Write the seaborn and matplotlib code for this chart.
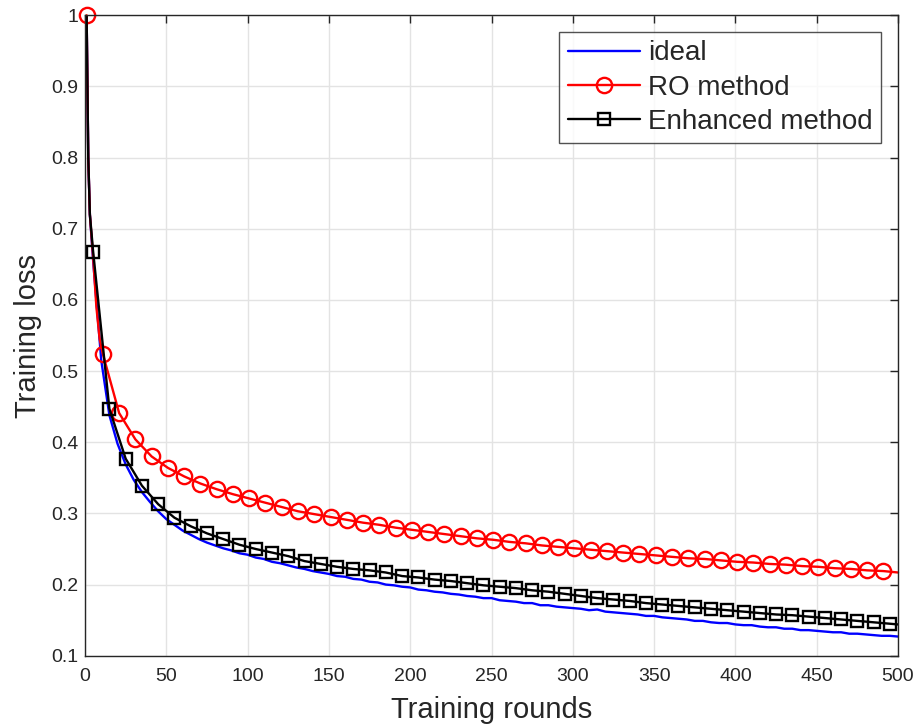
import numpy as np
import pandas as pd
import matplotlib
matplotlib.use("Agg")
import matplotlib.pyplot as plt
import seaborn as sns

# ideal curve (read every 5 rounds)
ideal_x = [1, 2, 3] + list(range(5, 501, 5))
ideal_y = [1.000, 0.800, 0.720,
           0.655, 0.515, 0.438, 0.398, 0.369, 0.347, 0.330, 0.316, 0.303, 0.292,
           0.284, 0.276, 0.270, 0.264, 0.259, 0.255, 0.251, 0.248, 0.244, 0.242,
           0.238, 0.236, 0.232, 0.230, 0.227, 0.224, 0.222, 0.219, 0.217, 0.215,
           0.212, 0.211, 0.208, 0.207, 0.204, 0.203, 0.200, 0.199, 0.197, 0.196,
           0.193, 0.192, 0.190, 0.189, 0.187, 0.186, 0.184, 0.183, 0.181, 0.181,
           0.178, 0.177, 0.176, 0.174, 0.174, 0.171, 0.171, 0.169, 0.168, 0.167,
           0.166, 0.164, 0.165, 0.162, 0.161, 0.160, 0.159, 0.158, 0.156, 0.156,
           0.154, 0.153, 0.152, 0.151, 0.149, 0.149, 0.147, 0.146, 0.146, 0.144,
           0.143, 0.143, 0.141, 0.140, 0.140, 0.138, 0.138, 0.136, 0.136, 0.135,
           0.134, 0.133, 0.133, 0.131, 0.131, 0.130, 0.129, 0.128, 0.128, 0.127]

# RO method: markers every 10 rounds starting at 1
ro_x = [1, 2, 3, 5, 7, 9] + list(range(11, 492, 10)) + [500]
ro_y = [1.000, 0.800, 0.720, 0.660, 0.590, 0.545,
        0.524, 0.441, 0.404, 0.380, 0.364, 0.352, 0.342, 0.334, 0.327, 0.321,
        0.315, 0.309, 0.303, 0.299, 0.295, 0.291, 0.287, 0.284, 0.280, 0.277,
        0.274, 0.271, 0.268, 0.265, 0.263, 0.260, 0.258, 0.255, 0.253, 0.251,
        0.249, 0.247, 0.245, 0.243, 0.241, 0.239, 0.237, 0.236, 0.234, 0.232,
        0.231, 0.229, 0.228, 0.226, 0.225, 0.223, 0.222, 0.220, 0.219,
        0.217]
ro_marks = [1] + list(range(11, 492, 10))

# Enhanced method: markers every 10 rounds starting at 5
enh_x = [1, 2, 3] + list(range(5, 496, 10)) + [500]
enh_y = [1.000, 0.800, 0.720,
         0.668, 0.447, 0.377, 0.339, 0.313, 0.294, 0.282, 0.272, 0.264, 0.256,
         0.250, 0.245, 0.240, 0.233, 0.229, 0.225, 0.222, 0.220, 0.217, 0.212,
         0.210, 0.207, 0.205, 0.202, 0.199, 0.197, 0.195, 0.192, 0.190, 0.187,
         0.184, 0.181, 0.179, 0.177, 0.174, 0.172, 0.170, 0.168, 0.166, 0.164,
         0.162, 0.160, 0.158, 0.157, 0.155, 0.153, 0.151, 0.149, 0.147, 0.145,
         0.144]
enh_marks = list(range(5, 496, 10))

sns.set_style("white")
plt.rcParams['font.family'] = ['Liberation Sans', 'DejaVu Sans']

fig = plt.figure(figsize=(9.14, 7.27), dpi=100)
ax = fig.add_axes([0.093, 0.098, 0.8895, 0.881])

sns.lineplot(x=ideal_x, y=ideal_y, ax=ax, color='blue', lw=1.7, label='ideal')
sns.lineplot(x=ro_x, y=ro_y, ax=ax, color='red', lw=1.7, marker='o', ms=11,
             mfc='none', mec='red', mew=1.7, clip_on=False,
             markevery=[i for i, v in enumerate(ro_x) if v in ro_marks],
             label='RO method')
sns.lineplot(x=enh_x, y=enh_y, ax=ax, color='black', lw=1.7, marker='s', ms=8,
             mfc='none', mec='black', mew=1.7,
             markevery=[i for i, v in enumerate(enh_x) if v in enh_marks],
             label='Enhanced method')

ax.set_xlim(0, 500)
ax.set_ylim(0.1, 1.0)
ax.set_xticks(np.arange(0, 501, 50))
ax.set_yticks(np.arange(0.1, 1.01, 0.1))
ax.set_yticklabels(['0.1', '0.2', '0.3', '0.4', '0.5', '0.6', '0.7', '0.8', '0.9', '1'])
ax.grid(True, color='#e3e3e3', lw=1)
ax.tick_params(direction='in', top=True, right=True, length=6, width=1,
               labelsize=14, colors='#262626')
ax.tick_params(axis='x', pad=9)
ax.tick_params(axis='y', pad=5)
for s in ax.spines.values():
    s.set_color('#262626')
    s.set_linewidth(1)

ax.set_xlabel('Training rounds', fontsize=21, color='#262626', labelpad=8)
ax.set_ylabel('Training loss', fontsize=21, color='#262626', labelpad=6)

leg = ax.legend(loc='upper right', fontsize=20, frameon=True, fancybox=False,
                edgecolor='#262626', handlelength=2.6, borderaxespad=0.6,
                labelspacing=0.3, handletextpad=0.3, borderpad=0.3)
leg.get_frame().set_linewidth(1)

fig.savefig('out.png', dpi=100)
